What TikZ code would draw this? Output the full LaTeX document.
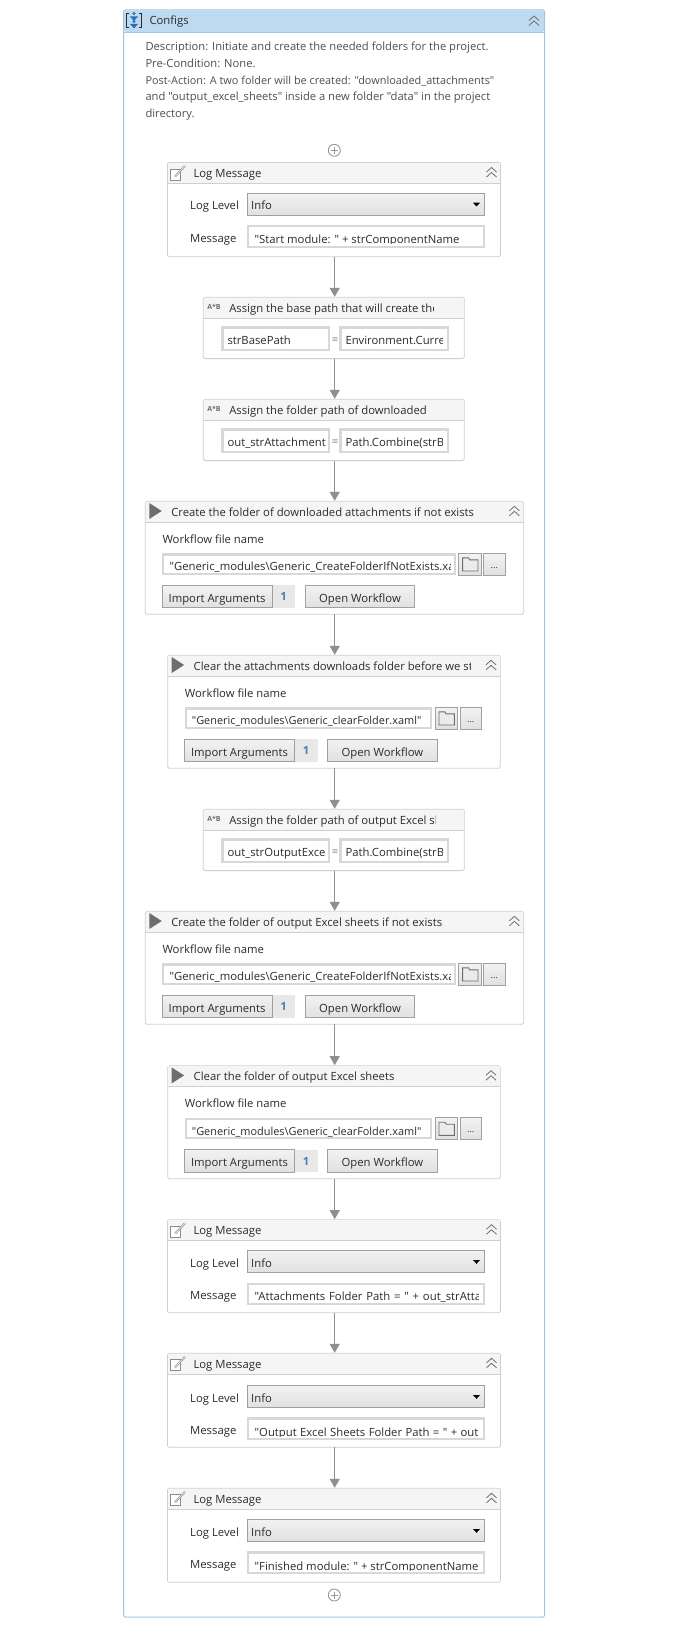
\documentclass[tikz,border=0pt]{standalone}
\usepackage{fontspec}
\setmainfont{Open Sans}[Ligatures=TeXOff]
\usetikzlibrary{arrows.meta}
\definecolor{framec}{HTML}{A4C6DA}
\definecolor{framehdr}{HTML}{BDDAF0}
\definecolor{blockc}{HTML}{CFCFCF}
\definecolor{hdrc}{HTML}{F5F5F5}
\definecolor{txtc}{HTML}{2B2B2B}
\definecolor{desc}{HTML}{4F4F4F}
\definecolor{fieldc}{HTML}{D8D8D8}
\definecolor{btnc}{HTML}{A0A0A0}
\definecolor{flowc}{HTML}{8F8F8F}
\definecolor{iconc}{HTML}{6E6E6E}
\definecolor{badgec}{HTML}{E8E8E8}
\definecolor{badgetxt}{HTML}{4A7EBB}
\definecolor{iconblue}{HTML}{2F6FB5}
\newcommand{\ftn}{\fontsize{11.3}{13}\selectfont}
\newcommand{\ftsmall}{\fontsize{10.9}{13}\selectfont}
\tikzset{
  blockbox/.style={draw=blockc,fill=white,rounded corners=1.5pt,line width=.8pt,inner sep=0pt,outer sep=0pt,anchor=north west},
  txt/.style={font=\ftn,text=txtc,inner sep=0pt,anchor=base west},
  ctxt/.style={font=\ftn,text=txtc,inner sep=0pt,anchor=base},
  flow/.style={draw=flowc,line width=1.3pt,shorten >=.5pt,-{Triangle[width=10pt,length=9pt]}},
  fieldbox/.style={draw=fieldc,fill=white,line width=2.2pt},
  btn/.style={draw=btnc,line width=.8pt,top color=white!95!black,bottom color=white!88!black},
  chev/.style={draw=iconc,line width=.8pt},
  plusc/.style={draw=black!40,line width=.9pt},
}
% chevron at local centre
\newcommand{\chevron}[2]{%
  \draw[chev] (#1-5,#2-.5) -- (#1,#2-5) -- (#1+5,#2-.5);
  \draw[chev] (#1-5,#2+4.5) -- (#1,#2) -- (#1+5,#2+4.5);}
% header: width, title x clip limit, title, name
\newcommand{\blockhdr}[4]{%
  \fill[hdrc] (.5,.5) rectangle (#1-.5,21);
  \draw[blockc,line width=.8pt] (0,21) -- (#1,21);
  \begin{scope}\clip (20,0) rectangle (#2,21);
    \node[txt] (#4-title) at (25.8,14.8) {#3};
  \end{scope}}
\newcommand{\plusmark}[3]{%
  \node[circle,plusc,minimum size=12pt,inner sep=0pt,outer sep=0pt] (#1) at (#2,#3) {};
  \draw[plusc] (#2-3.5,#3) -- (#2+3.5,#3) (#2,#3-3.5) -- (#2,#3+3.5);}
% name, top, height, message text, combo offset, message offset, baseline within message box
\newcommand{\logblock}[7]{%
  \begin{scope}[shift={(167.5,#2)}]
    \node[blockbox,minimum width=333pt,minimum height=#3pt] (#1) at (0,0) {};
    \blockhdr{333}{320}{Log Message}{#1}
    \draw[black!45,line width=.7pt,fill=white] (2.5,6.5) rectangle (12.5,17.5);
    \draw[black!45,line width=2pt] (7.5,14) -- (17.5,3.5);
    \draw[white,line width=.6pt] (7.5,14) -- (17.5,3.5);
    \chevron{324}{10}
    \node[txt] (#1-lvl) at (22.5,#5+16.7) {Log Level};
    \draw[btn] (79.5,#5) rectangle (317.2,#5+22.5);
    \node[txt] (#1-info) at (83.5,#5+16.7) {Info};
    \fill[black] (305.5,#5+9.7) -- (312.5,#5+9.7) -- (309,#5+13.5) -- cycle;
    \node[txt] (#1-mlab) at (22.5,#6+17) {Message};
    \draw[fieldbox] (80.6,#6+1.1) rectangle (316.1,#6+21.6);
    \begin{scope}\clip (82,#6+2) rectangle (311,#6+18.7);
      \node[txt] (#1-msg) at (87,#6+#7) {#4};
    \end{scope}
  \end{scope}}
% name, top, title, clip limit, left text, right text, left clip
\newcommand{\assignblock}[7]{%
  \begin{scope}[shift={(203.3,#2)}]
    \node[blockbox,minimum width=261pt,minimum height=61.3pt] (#1) at (0,0) {};
    \blockhdr{261}{#4}{#3}{#1}
    \node[font=\bfseries\fontsize{7}{8}\selectfont,text=iconc,inner sep=0pt] (#1-ic) at (10.7,10) {A*B};
    \draw[fieldbox] (19.1,30.1) rectangle (125.7,52.9);
    \draw[fieldbox] (137.1,30.1) rectangle (244.3,52.9);
    \node[ctxt,text=iconc] (#1-eq) at (131.7,46.3) {=};
    \begin{scope}\clip (20,30) rectangle (#7,53);
      \node[txt] (#1-l) at (24,46.7) {#5};
    \end{scope}
    \begin{scope}\clip (138,30) rectangle (239,53);
      \node[txt] (#1-r) at (142,46.7) {#6};
    \end{scope}
  \end{scope}}
% name, left, top, width, field width, title, clip limit, field text
\newcommand{\invokeblock}[8]{%
  \begin{scope}[shift={(#2,#3)}]
    \node[blockbox,minimum width=#4pt,minimum height=113pt] (#1) at (0,0) {};
    \blockhdr{#4}{#7}{#6}{#1}
    \fill[iconc] (4,1.7) -- (16.4,9.7) -- (4,17.7) -- cycle;
    \chevron{#4-9.3}{10}
    \node[txt] (#1-wf) at (17,42) {Workflow file name};
    \pgfmathsetmacro{\fr}{17+#5}
    \draw[fieldbox] (17.9,53.1) rectangle (\fr-1.1,72.6);
    \begin{scope}\clip (19,54) rectangle (\fr-5.5,70.4);
      \node[txt] (#1-file) at (24,69.4) {#8};
    \end{scope}
    \pgfmathsetmacro{\fa}{\fr+2.6}\pgfmathsetmacro{\fb}{\fa+22.4}
    \pgfmathsetmacro{\ga}{\fb+2.6}\pgfmathsetmacro{\gb}{\ga+21.4}
    \draw[btn] (\fa,52) rectangle (\fb,73.7);
    \draw[iconc,line width=.9pt,fill=white!92!black] (\fa+4,56.5) -- (\fa+10,56.5) -- (\fa+11,58.5) -- (\fa+19.4,58.5) -- (\fa+19.4,69.7) -- (\fa+4,69.7) -- cycle;
    \draw[btn] (\ga,52) rectangle (\gb,73.7);
    \node[ctxt,font=\fontsize{9}{10}\selectfont] (#1-dots) at (\ga+10.7,67) {...};
    \fill[badgec] (17,84) rectangle (150,106.4);
    \draw[btn] (17,84) rectangle (126.7,106.4);
    \node[ctxt] (#1-imp) at (71.8,101) {Import Arguments};
    \node[ctxt,text=badgetxt,font=\bfseries\ftn] (#1-n) at (138.3,99.5) {1};
    \draw[btn] (160,84) rectangle (269.4,106.4);
    \node[ctxt] (#1-open) at (214.7,101) {Open Workflow};
  \end{scope}}
\begin{document}
\begin{tikzpicture}[x=1pt,y=-1pt]
\useasboundingbox (0,0) rectangle (698,1643);
\fill[white] (0,0) rectangle (698,1643);
% outer frame
\node[blockbox,draw=framec,line width=1pt,minimum width=421.2pt,minimum height=1607pt] (frame) at (123.5,10) {};
\fill[framehdr,rounded corners=1.5pt] (124,10.5) rectangle (544.2,32);
\draw[framec,line width=.8pt] (123.5,32) -- (544.7,32);
\draw[txtc,line width=1pt] (129,14) -- (126.5,14) -- (126.5,28) -- (129,28);
\draw[txtc,line width=1pt] (139,14) -- (141.5,14) -- (141.5,28) -- (139,28);
\fill[iconblue] (134,13.5) circle (1.7) (130,16.5) -- (138,16.5) -- (134,21) -- cycle;
\fill[iconblue] (134,21.5) circle (1.7) (130,24) -- (138,24) -- (134,28.5) -- cycle;
\chevron{534}{21}
\node[txt] (frame-title) at (149.3,25) {Configs};
\node[inner sep=0pt,anchor=north west,align=left,text=desc,font=\fontsize{11.2}{16.75}\selectfont] (desc) at (145.3,41.8) {Description: Initiate and create the needed folders for the project.\\Pre-Condition: None.\\{\fontsize{10.9}{16.75}\selectfont Post-Action: A two folder will be created: "downloaded\_attachments"}\\and "output\_excel\_sheets" inside a new folder "data" in the project\\directory.};
\plusmark{plusa}{334.3}{150.3}
\coordinate (axis) at (334.7,0);
\logblock{lga}{162.5}{94.2}{"Start module: " + strComponentName}{30.5}{62.5}{18.6}
\assignblock{asa}{297.3}{Assign the base path that will create the}{230}{strBasePath}{Environment.Curre}{124}
\assignblock{asb}{399.3}{Assign the folder path of downloaded}{250}{out\_strAttachment}{Path.Combine(strB}{124}
\invokeblock{inva}{145.3}{501.3}{378.4}{293.7}{Create the folder of downloaded attachments if not exists}{350}{"Generic\_modules\textbackslash Generic\_CreateFolderIfNotExists.xaml"}
\invokeblock{invb}{167.7}{655.3}{332.6}{247.7}{Clear the attachments downloads folder before we start}{302.3}{\ftsmall"Generic\_modules\textbackslash Generic\_clearFolder.xaml"}
\assignblock{asc}{809.3}{Assign the folder path of output Excel sheets}{231.7}{out\_strOutputExce}{Path.Combine(strB}{124}
\invokeblock{invc}{145.3}{911.3}{378.4}{293.7}{Create the folder of output Excel sheets if not exists}{350}{"Generic\_modules\textbackslash Generic\_CreateFolderIfNotExists.xaml"}
\invokeblock{invd}{167.7}{1065.7}{332.6}{247.7}{Clear the folder of output Excel sheets}{310}{\ftsmall"Generic\_modules\textbackslash Generic\_clearFolder.xaml"}
\logblock{lgb}{1219.7}{93}{\spaceskip=3.8pt "Attachments Folder Path = " + out\_strAtta}{30.6}{63}{17.3}
\logblock{lgc}{1353.3}{94}{\spaceskip=3.4pt "Output Excel Sheets Folder Path = " + out}{32}{64}{19}
\logblock{lgd}{1488.3}{94}{"Finished module: " + strComponentName}{31}{63}{19}
\plusmark{plusb}{334.3}{1595}
\draw[flow] (lga.south -| axis) -- (asa.north -| axis);
\draw[flow] (asa.south -| axis) -- (asb.north -| axis);
\draw[flow] (asb.south -| axis) -- (inva.north -| axis);
\draw[flow] (inva.south -| axis) -- (invb.north -| axis);
\draw[flow] (invb.south -| axis) -- (asc.north -| axis);
\draw[flow] (asc.south -| axis) -- (invc.north -| axis);
\draw[flow] (invc.south -| axis) -- (invd.north -| axis);
\draw[flow] (invd.south -| axis) -- (lgb.north -| axis);
\draw[flow] (lgb.south -| axis) -- (lgc.north -| axis);
\draw[flow] (lgc.south -| axis) -- (lgd.north -| axis);
\end{tikzpicture}
\end{document}
